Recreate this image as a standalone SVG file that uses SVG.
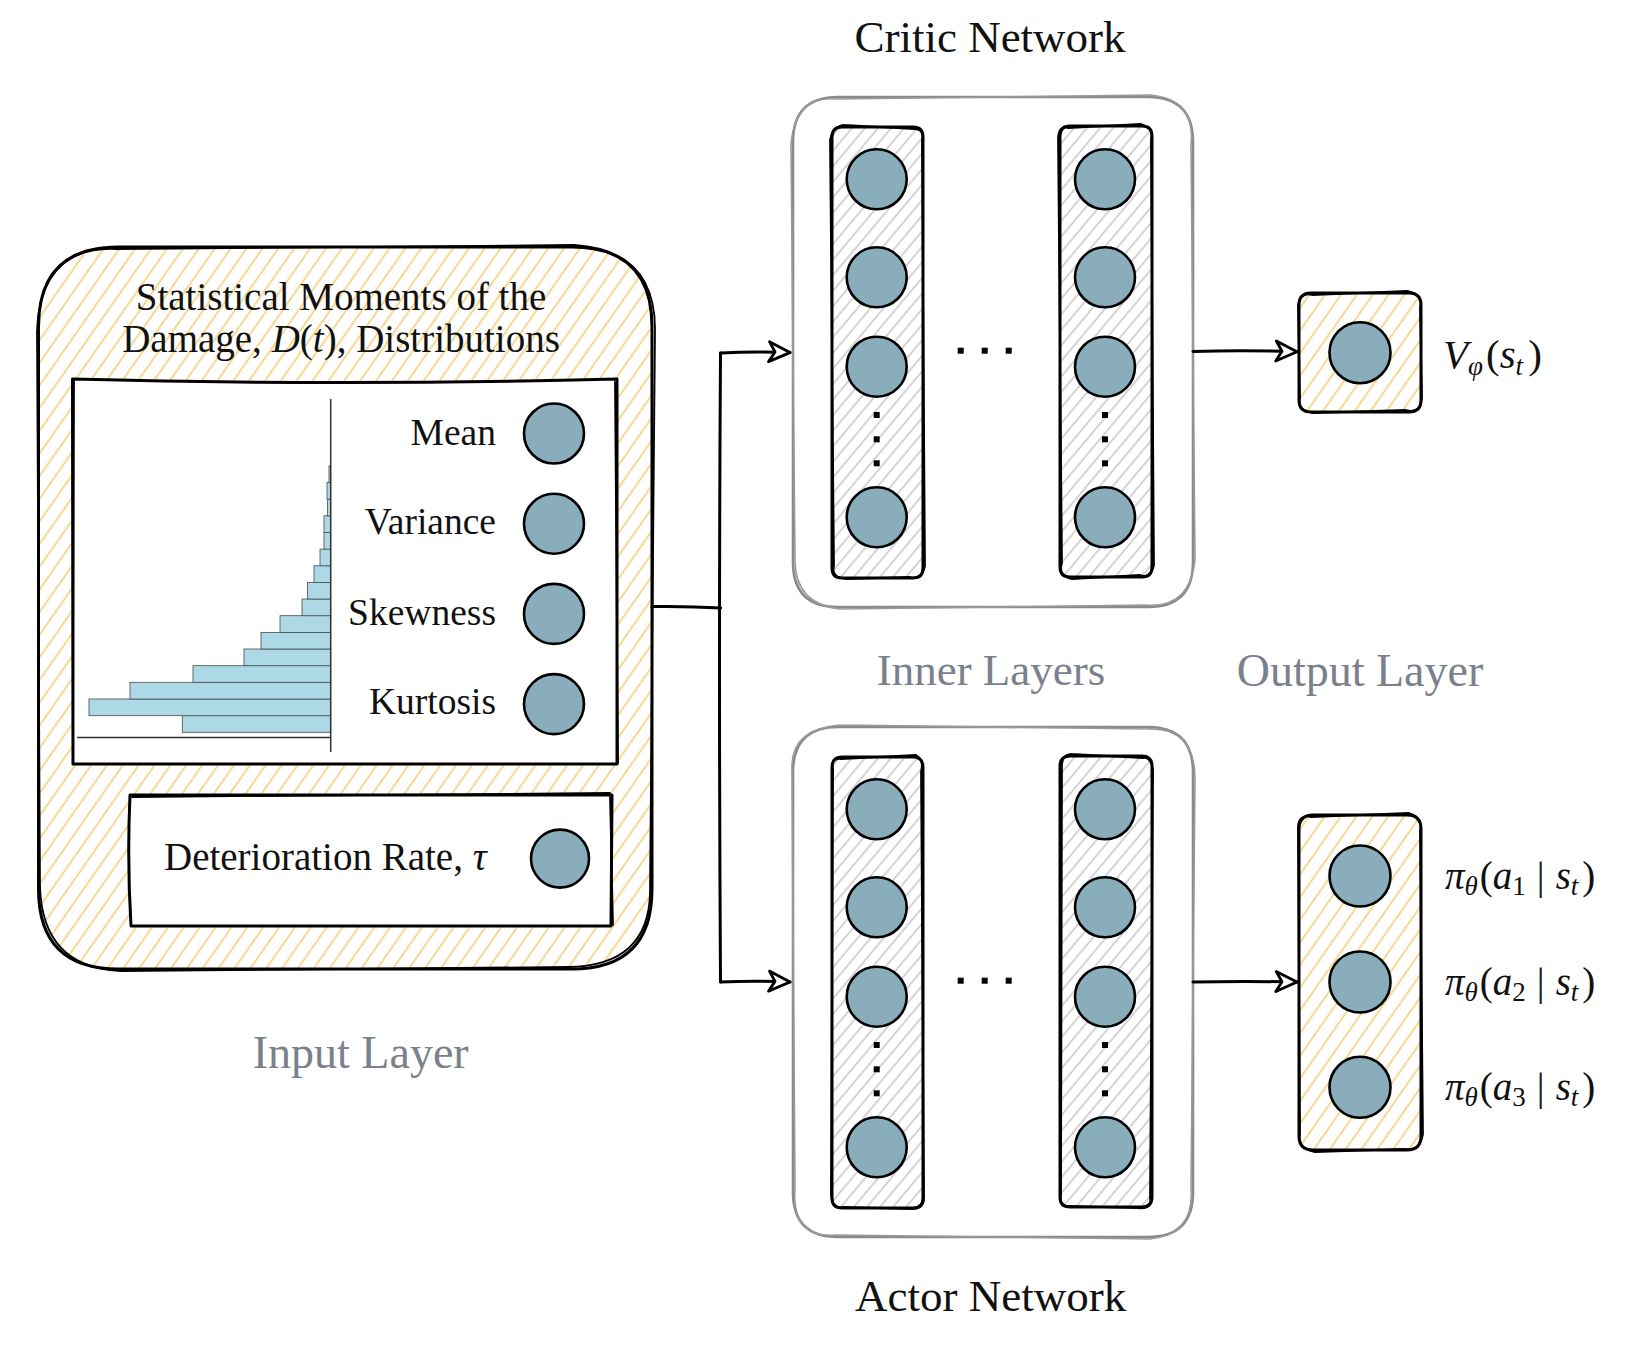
<svg xmlns="http://www.w3.org/2000/svg" width="1626" height="1351" viewBox="0 0 1626 1351">
<style>
.t{font-family:"Liberation Serif","Times New Roman",serif;fill:#111}
.g{font-family:"Liberation Serif","Times New Roman",serif;fill:#7b818c}
.ink{stroke:#000;stroke-width:3;stroke-linecap:round;stroke-linejoin:round}
.ink2{fill:none;stroke:#000;stroke-width:1.8;stroke-linecap:round;stroke-linejoin:round}
.gray{stroke:#8a8a8a;stroke-width:2.6;stroke-linecap:round}
.gray2{fill:none;stroke:#9a9a9a;stroke-width:1.6;stroke-linecap:round}
.hy{fill:url(#hatchY)}
.hg{fill:url(#hatchG)}
.wf{fill:#fff}
.neu{fill:#8aadbc;stroke:#000;stroke-width:2.6}
.bar{fill:#add8e6;stroke:#4a4a4a;stroke-width:0.8}
.axis{stroke:#333;stroke-width:1.5;fill:none}
.dot{fill:#000}
.conn{fill:none;stroke:#000;stroke-width:3;stroke-linecap:round}
</style>
<defs>
<pattern id="hatchY" patternUnits="userSpaceOnUse" width="13" height="13" patternTransform="rotate(35)">
<rect width="13" height="13" fill="#fff"/>
<line x1="6.5" y1="-1" x2="6.5" y2="14" stroke="#f2cf74" stroke-width="1.6"/>
</pattern>
<pattern id="hatchG" patternUnits="userSpaceOnUse" width="10" height="10" patternTransform="rotate(40)">
<rect width="10" height="10" fill="#fff"/>
<line x1="5" y1="-1" x2="5" y2="11" stroke="#c2c2c8" stroke-width="1.4"/>
</pattern>
<marker id="arr" viewBox="-3 -3 30 28" refX="22" refY="11" markerWidth="30" markerHeight="28" markerUnits="userSpaceOnUse" orient="auto" overflow="visible">
<path d="M1,1 L22,11 L1,21 L7,11 Z" fill="#fff" stroke="#000" stroke-width="2.8" stroke-linejoin="round"/>
</marker>
</defs>
<rect width="1626" height="1351" fill="#fff"/>

<!-- Input layer -->
<g id="input-layer">
<path class="ink hy" d="M118.5,247 L572,247 Q652,247 652,327 L652,889 Q652,969 572,969 L118.5,969 Q38.5,969 38.5,889 L38.5,327 Q38.5,247 118.5,247 Z"/>
<path class="ink2" d="M116,249 L574,245 Q656,250 655,331 L650,892 Q649,966 568,967 L120,971 Q42,967 40,886 L37,332 Q40,246 116,249"/>
<text class="t" x="341" y="310" font-size="39" text-anchor="middle">Statistical Moments of the</text>
<text class="t" x="341" y="352" font-size="39" text-anchor="middle">Damage, <tspan font-style="italic">D</tspan>(<tspan font-style="italic">t</tspan>), Distributions</text>
</g>

<g id="moments-panel">
<path class="ink wf" d="M72.5,379 Q340,386 617,379 L617,764 L73,764 Z"/>
<path class="ink2" d="M74,381 L73,762 M615,382 L618,763"/>
<g id="histogram">
<rect class="bar" x="182.3" y="715.7" width="148.4" height="16.6"/>
<rect class="bar" x="89" y="699" width="241.7" height="16.7"/>
<rect class="bar" x="130" y="682.3" width="200.7" height="16.7"/>
<rect class="bar" x="193" y="665.7" width="137.7" height="16.6"/>
<rect class="bar" x="244" y="649" width="86.7" height="16.7"/>
<rect class="bar" x="261" y="632.4" width="69.7" height="16.6"/>
<rect class="bar" x="280" y="615.7" width="50.7" height="16.7"/>
<rect class="bar" x="302" y="599" width="28.7" height="16.7"/>
<rect class="bar" x="307.5" y="582.4" width="23.2" height="16.6"/>
<rect class="bar" x="314" y="565.8" width="16.7" height="16.6"/>
<rect class="bar" x="320" y="549.1" width="10.7" height="16.7"/>
<rect class="bar" x="324" y="532.5" width="6.7" height="16.6"/>
<rect class="bar" x="324" y="515.8" width="6.7" height="16.7"/>
<rect class="bar" x="327.5" y="499.2" width="3.2" height="16.6"/>
<rect class="bar" x="327" y="482.5" width="3.7" height="16.7"/>
<rect class="bar" x="329" y="465.9" width="1.7" height="16.6"/>
<line class="axis" x1="330.7" y1="399" x2="330.7" y2="752"/>
<line class="axis" x1="77" y1="737.5" x2="330.7" y2="737.5"/>
</g>
<g id="mean"><text class="t" x="496" y="445" font-size="37.5" text-anchor="end">Mean</text><circle class="neu" cx="554" cy="433.5" r="30"/></g>
<g id="variance"><text class="t" x="496" y="534" font-size="37.5" text-anchor="end">Variance</text><circle class="neu" cx="554" cy="523.7" r="30"/></g>
<g id="skewness"><text class="t" x="496" y="625" font-size="37.5" text-anchor="end">Skewness</text><circle class="neu" cx="554" cy="613.9" r="30"/></g>
<g id="kurtosis"><text class="t" x="496" y="714" font-size="37.5" text-anchor="end">Kurtosis</text><circle class="neu" cx="554" cy="704.1" r="30"/></g>
</g>

<g id="deterioration-rate">
<path class="ink wf" d="M130,795 L612,795 L611,926 L131,926 Q127,860 130,795 Z"/>
<path class="ink2" d="M132,797 L610,793 M610,797 L613,925"/>
<text class="t" x="164" y="870" font-size="39">Deterioration Rate, <tspan font-style="italic">τ</tspan></text>
<circle class="neu" cx="560" cy="858.6" r="29"/>
</g>

<text class="g" x="360.7" y="1068" font-size="46" text-anchor="middle">Input Layer</text>

<!-- Critic network -->
<text class="t" x="990" y="52" font-size="45" text-anchor="middle">Critic Network</text>
<g id="critic-network">
<path class="gray wf" d="M838,97 L1148,97 Q1193,97 1193,142 L1193,562 Q1193,607 1148,607 L838,607 Q793,607 793,562 L793,142 Q793,97 838,97 Z"/>
<path class="gray2" d="M836,99 L1150,95 Q1196,99 1191,145 L1195,560 Q1190,609 1145,605 L840,609 Q795,604 795,560 L791,145 Q795,95 836,99"/>
<g id="critic-hidden-1">
<path class="ink hg" d="M842,127 L913,127 Q923,127 923,137 L923,568 Q923,578 913,578 L842,578 Q832,578 832,568 L832,137 Q832,127 842,127 Z"/>
<path class="ink2" d="M844,125 L915,129 Q925,130 922,140 L925,566 Q922,580 910,577 L846,579 Q831,577 834,566 L830,140 Q833,126 844,125"/>
<circle class="neu" cx="876.7" cy="179.3" r="30"/>
<circle class="neu" cx="876.7" cy="277.3" r="30"/>
<circle class="neu" cx="876.7" cy="366.7" r="30"/>
<circle class="neu" cx="876.7" cy="517.3" r="30"/>
<rect class="dot" x="873.7" y="412" width="6" height="6"/>
<rect class="dot" x="873.7" y="436.3" width="6" height="6"/>
<rect class="dot" x="873.7" y="460.3" width="6" height="6"/>
</g>
<g id="critic-ellipsis">
<rect class="dot" x="957.7" y="347.7" width="6" height="6"/>
<rect class="dot" x="981.7" y="347.7" width="6" height="6"/>
<rect class="dot" x="1005.7" y="347.7" width="6" height="6"/>
</g>
<g id="critic-hidden-n">
<path class="ink hg" d="M1070,126 L1142,126 Q1152,126 1152,136 L1152,567 Q1152,577 1142,577 L1070,577 Q1060,577 1060,567 L1060,136 Q1060,126 1070,126 Z"/>
<path class="ink2" d="M1068,128 L1141,124 Q1154,128 1151,139 L1154,565 Q1151,579 1140,575 L1072,579 Q1058,576 1062,563 L1058,138 Q1059,125 1068,128"/>
<circle class="neu" cx="1105" cy="179.3" r="30"/>
<circle class="neu" cx="1105" cy="277.3" r="30"/>
<circle class="neu" cx="1105" cy="366.7" r="30"/>
<circle class="neu" cx="1105" cy="517.3" r="30"/>
<rect class="dot" x="1102" y="412" width="6" height="6"/>
<rect class="dot" x="1102" y="436.3" width="6" height="6"/>
<rect class="dot" x="1102" y="460.3" width="6" height="6"/>
</g>
</g>

<g id="critic-output">
<path class="ink hy" d="M1311,293 L1409,293 Q1421,293 1421,305 L1421,400 Q1421,412 1409,412 L1311,412 Q1299,412 1299,400 L1299,305 Q1299,293 1311,293 Z"/>
<path class="ink2" d="M1312,295 L1407,291 Q1423,294 1420,308 L1422,398 Q1420,414 1406,410 L1313,413 Q1297,410 1300,398 L1298,306 Q1300,292 1312,295"/>
<circle class="neu" cx="1360" cy="352.7" r="30.5"/>
<text class="t" x="1443" y="368" font-size="41"><tspan font-style="italic">V</tspan><tspan font-size="27" dy="7" font-style="italic">φ</tspan><tspan dy="-7" dx="3">(</tspan><tspan font-style="italic">s</tspan><tspan font-size="27" dy="7" font-style="italic">t</tspan><tspan dy="-7" dx="5">)</tspan></text>
</g>

<text class="g" x="991" y="685" font-size="45" text-anchor="middle">Inner Layers</text>
<text class="g" x="1360" y="686" font-size="46" text-anchor="middle">Output Layer</text>

<!-- Actor network -->
<g id="actor-network" transform="translate(0,630)">
<path class="gray wf" d="M838,97 L1148,97 Q1193,97 1193,142 L1193,562 Q1193,607 1148,607 L838,607 Q793,607 793,562 L793,142 Q793,97 838,97 Z"/>
<path class="gray2" d="M840,95 L1146,99 Q1194,96 1195,147 L1191,558 Q1195,604 1150,609 L836,605 Q791,609 795,558 L792,140 Q790,99 840,95"/>
<g id="actor-hidden-1">
<path class="ink hg" d="M842,127 L913,127 Q923,127 923,137 L923,568 Q923,578 913,578 L842,578 Q832,578 832,568 L832,137 Q832,127 842,127 Z"/>
<path class="ink2" d="M841,129 L916,125 Q924,129 921,142 L924,568 Q924,579 912,579 L843,577 Q833,580 831,565 L833,139 Q831,128 841,129"/>
<circle class="neu" cx="876.7" cy="179.3" r="30"/>
<circle class="neu" cx="876.7" cy="277.3" r="30"/>
<circle class="neu" cx="876.7" cy="366.7" r="30"/>
<circle class="neu" cx="876.7" cy="517.3" r="30"/>
<rect class="dot" x="873.7" y="412" width="6" height="6"/>
<rect class="dot" x="873.7" y="436.3" width="6" height="6"/>
<rect class="dot" x="873.7" y="460.3" width="6" height="6"/>
</g>
<g id="actor-ellipsis">
<rect class="dot" x="957.7" y="347.7" width="6" height="6"/>
<rect class="dot" x="981.7" y="347.7" width="6" height="6"/>
<rect class="dot" x="1005.7" y="347.7" width="6" height="6"/>
</g>
<g id="actor-hidden-n">
<path class="ink hg" d="M1070,126 L1142,126 Q1152,126 1152,136 L1152,567 Q1152,577 1142,577 L1070,577 Q1060,577 1060,567 L1060,136 Q1060,126 1070,126 Z"/>
<path class="ink2" d="M1071,124 L1143,128 Q1151,127 1153,140 L1150,568 Q1152,580 1138,578 L1068,576 Q1059,578 1061,565 L1062,135 Q1062,125 1071,124"/>
<circle class="neu" cx="1105" cy="179.3" r="30"/>
<circle class="neu" cx="1105" cy="277.3" r="30"/>
<circle class="neu" cx="1105" cy="366.7" r="30"/>
<circle class="neu" cx="1105" cy="517.3" r="30"/>
<rect class="dot" x="1102" y="412" width="6" height="6"/>
<rect class="dot" x="1102" y="436.3" width="6" height="6"/>
<rect class="dot" x="1102" y="460.3" width="6" height="6"/>
</g>
</g>
<text class="t" x="990.7" y="1311" font-size="45" text-anchor="middle">Actor Network</text>

<g id="actor-output">
<path class="ink hy" d="M1313,815 L1407,815 Q1421,815 1421,829 L1421,1136 Q1421,1150 1407,1150 L1313,1150 Q1299,1150 1299,1136 L1299,829 Q1299,815 1313,815 Z"/>
<path class="ink2" d="M1311,817 L1409,813 Q1423,817 1420,831 L1423,1134 Q1420,1152 1404,1149 L1315,1152 Q1297,1148 1300,1134 L1298,828 Q1298,814 1311,817"/>
<circle class="neu" cx="1360" cy="876" r="30.5"/>
<circle class="neu" cx="1360" cy="982" r="30.5"/>
<circle class="neu" cx="1360" cy="1087.3" r="30.5"/>
<text class="t" x="1445" y="889" font-size="39"><tspan font-style="italic">π</tspan><tspan font-size="27" dy="6" font-style="italic">θ</tspan><tspan dy="-6" dx="2">(</tspan><tspan font-style="italic">a</tspan><tspan font-size="27" dy="6">1</tspan><tspan dy="-6" dx="11">|</tspan><tspan dx="11" font-style="italic">s</tspan><tspan font-size="27" dy="6" font-style="italic">t</tspan><tspan dy="-6" dx="4">)</tspan></text>
<text class="t" x="1445" y="995" font-size="39"><tspan font-style="italic">π</tspan><tspan font-size="27" dy="6" font-style="italic">θ</tspan><tspan dy="-6" dx="2">(</tspan><tspan font-style="italic">a</tspan><tspan font-size="27" dy="6">2</tspan><tspan dy="-6" dx="11">|</tspan><tspan dx="11" font-style="italic">s</tspan><tspan font-size="27" dy="6" font-style="italic">t</tspan><tspan dy="-6" dx="4">)</tspan></text>
<text class="t" x="1445" y="1100" font-size="39"><tspan font-style="italic">π</tspan><tspan font-size="27" dy="6" font-style="italic">θ</tspan><tspan dy="-6" dx="2">(</tspan><tspan font-style="italic">a</tspan><tspan font-size="27" dy="6">3</tspan><tspan dy="-6" dx="11">|</tspan><tspan dx="11" font-style="italic">s</tspan><tspan font-size="27" dy="6" font-style="italic">t</tspan><tspan dy="-6" dx="4">)</tspan></text>
</g>

<!-- Connectors -->
<g id="connectors">
<path class="conn" d="M652,606.5 Q690,606 720.7,608"/>
<path class="conn" d="M720.5,353 Q718.5,660 720.5,982"/>
<path class="conn" d="M720.5,353 Q755,351 790,352.6" marker-end="url(#arr)"/>
<path class="conn" d="M720.5,982 Q755,980.5 790,982" marker-end="url(#arr)"/>
<path class="conn" d="M1193,351.5 Q1245,350 1297,351.7" marker-end="url(#arr)"/>
<path class="conn" d="M1193,982 Q1245,981 1297,982" marker-end="url(#arr)"/>
</g>
</svg>
